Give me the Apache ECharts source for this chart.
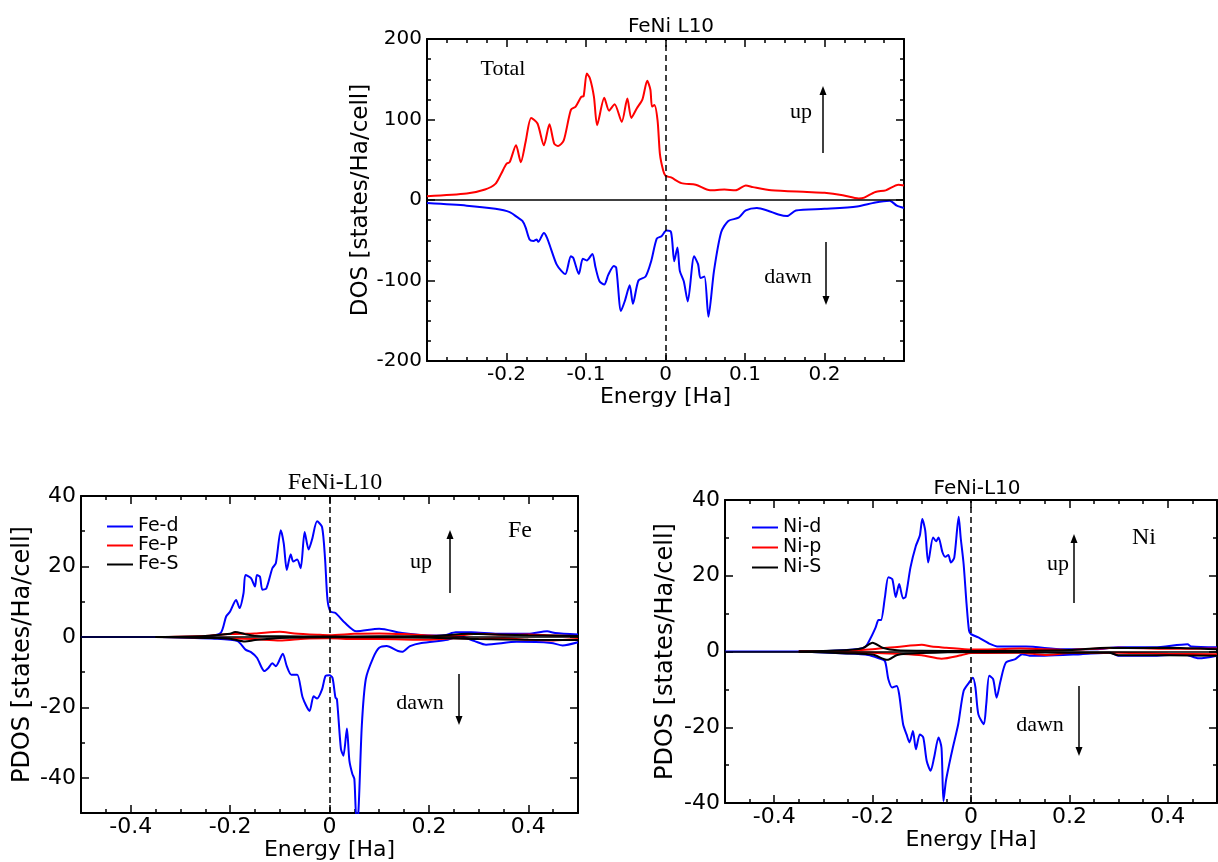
<!DOCTYPE html>
<html>
<head>
<meta charset="utf-8">
<script src="https://cdn.jsdelivr.net/npm/echarts@6/dist/echarts.min.js"></script>
<style>
  html, body { margin: 0; padding: 0; background: #fff; }
  #chart { width: 1218px; height: 862px; }
</style>
</head>
<body>
<div id="chart"></div>
<script>
// ---- data: [energy (Ha), DOS] ----
const totalUp = [[-0.3,4.6],[-0.25,8],[-0.227,13],[-0.214,20],[-0.207,32],[-0.2,45],[-0.196,47],[-0.188,68],[-0.182,47],[-0.176,72],[-0.169,102],[-0.161,95],[-0.153,68],[-0.146,94],[-0.14,70],[-0.135,67],[-0.128,74],[-0.119,112],[-0.113,116],[-0.106,128],[-0.103,129],[-0.099,157],[-0.095,151],[-0.09,128],[-0.086,93],[-0.077,127],[-0.071,111],[-0.064,119],[-0.055,97],[-0.048,126],[-0.043,102],[-0.036,114],[-0.029,125],[-0.023,148],[-0.019,137],[-0.017,116],[-0.014,118],[-0.01,99],[-0.007,57],[-0.003,37],[0,30],[0.007,28],[0.02,21],[0.038,19],[0.056,12],[0.074,13],[0.088,12],[0.101,18],[0.11,16],[0.133,12],[0.178,10],[0.2,9],[0.223,6],[0.243,2],[0.25,3],[0.264,10],[0.277,12],[0.293,19],[0.3,18]];
const totalDown = [[-0.3,-3.8],[-0.25,-7],[-0.214,-11],[-0.196,-15],[-0.187,-21],[-0.18,-26],[-0.176,-34],[-0.171,-49],[-0.166,-51],[-0.162,-49],[-0.16,-52],[-0.153,-41],[-0.149,-47],[-0.144,-61],[-0.137,-80],[-0.131,-88],[-0.126,-92],[-0.119,-70],[-0.116,-72],[-0.109,-92],[-0.104,-73],[-0.099,-75],[-0.092,-67],[-0.088,-84],[-0.083,-101],[-0.077,-105],[-0.072,-93],[-0.065,-82],[-0.062,-84],[-0.056,-138],[-0.051,-125],[-0.045,-106],[-0.041,-129],[-0.034,-100],[-0.025,-95],[-0.018,-76],[-0.011,-48],[-0.005,-45],[0.001,-38],[0.007,-40],[0.011,-76],[0.015,-59],[0.018,-88],[0.023,-101],[0.028,-126],[0.036,-70],[0.041,-80],[0.044,-97],[0.049,-95],[0.054,-145],[0.061,-88],[0.07,-40],[0.079,-26],[0.092,-22],[0.101,-13],[0.115,-10],[0.128,-13],[0.142,-18],[0.153,-20],[0.164,-13],[0.2,-11],[0.241,-8],[0.264,-3],[0.282,-1],[0.291,-7],[0.3,-10]];

const feDUp = [[-0.5,0],[-0.338,0],[-0.246,0.2],[-0.219,1.1],[-0.208,5.8],[-0.2,7.2],[-0.188,10.5],[-0.181,8.2],[-0.173,12.4],[-0.169,17.6],[-0.158,16.7],[-0.15,14.3],[-0.146,17.6],[-0.14,17.1],[-0.135,13.4],[-0.127,13.8],[-0.115,19.5],[-0.108,20.9],[-0.098,30.3],[-0.092,26.5],[-0.086,19],[-0.078,23.5],[-0.073,21.4],[-0.065,22],[-0.058,19.5],[-0.05,29.8],[-0.042,24.8],[-0.035,27.7],[-0.025,32.8],[-0.015,31.2],[-0.009,22.3],[-0.004,10.5],[0.002,7.2],[0.012,6.8],[0.031,4],[0.054,1.6],[0.1,2.3],[0.146,1.1],[0.2,0.4],[0.231,0.5],[0.254,1.3],[0.285,1.3],[0.338,0.9],[0.4,0.9],[0.438,1.6],[0.454,1.1],[0.5,0.7]];
const feDDown = [[-0.338,0],[-0.231,-0.5],[-0.185,-1.2],[-0.169,-3.6],[-0.158,-4.3],[-0.146,-5.9],[-0.131,-9.7],[-0.123,-8.8],[-0.115,-7.5],[-0.108,-8.3],[-0.094,-4.8],[-0.086,-8.3],[-0.077,-10.7],[-0.065,-10.7],[-0.054,-17.2],[-0.04,-21],[-0.032,-16.8],[-0.025,-17.5],[-0.015,-14.9],[-0.008,-11.1],[0,-10.9],[0.006,-11.6],[0.012,-17.2],[0.015,-17.7],[0.023,-31.8],[0.028,-33.7],[0.035,-26],[0.04,-35.1],[0.046,-38.9],[0.05,-40.3],[0.054,-51],[0.058,-50],[0.065,-25.2],[0.073,-12],[0.088,-5.9],[0.1,-3.1],[0.115,-2.6],[0.138,-4],[0.146,-4.2],[0.162,-2.6],[0.185,-1.7],[0.238,-0.8],[0.262,0.2],[0.292,-1.2],[0.315,-2.2],[0.377,-1.4],[0.446,-1.7],[0.469,-2.4],[0.5,-1.5]];
const fePUp = [[-0.34,0],[-0.25,0.3],[-0.2,0.8],[-0.15,1.0],[-0.1,1.5],[-0.07,1.0],[-0.02,0.6],[0,0.5],[0.05,0.9],[0.1,1.0],[0.15,0.8],[0.2,0.4],[0.25,0.3],[0.3,0.9],[0.35,0.6],[0.4,0.7],[0.45,0.4],[0.5,0.3]];
const fePDown = [[-0.34,0],[-0.25,-0.2],[-0.2,-0.4],[-0.15,-0.6],[-0.1,-1.0],[-0.05,-0.5],[0,-0.4],[0.05,-0.6],[0.1,-0.6],[0.2,-0.8],[0.25,-0.4],[0.3,-0.5],[0.35,-0.4],[0.4,-0.8],[0.45,-1.0],[0.5,-0.6]];
const feSUp = [[-0.35,0],[-0.25,0.3],[-0.2,0.9],[-0.19,1.4],[-0.17,0.8],[-0.15,0.3],[-0.1,0.2],[0,0.1],[0.1,0.2],[0.2,0.2],[0.28,0.9],[0.3,0.8],[0.4,0.5],[0.5,0.3]];
const feSDown = [[-0.35,0],[-0.25,-0.3],[-0.2,-0.5],[-0.17,-1.3],[-0.15,-0.9],[-0.1,-0.3],[0,-0.1],[0.2,-0.2],[0.3,-0.6],[0.4,-0.8],[0.5,-0.9]];

const niDUp = [[-0.5,0],[-0.35,0],[-0.254,0.4],[-0.216,1.1],[-0.205,3.3],[-0.194,6.3],[-0.188,8.3],[-0.183,8.3],[-0.175,14.3],[-0.168,19.6],[-0.16,19.1],[-0.153,14.4],[-0.146,17.8],[-0.138,14],[-0.133,14.4],[-0.123,22.2],[-0.112,27.9],[-0.104,30.6],[-0.099,35],[-0.093,31.9],[-0.087,23.5],[-0.077,30.1],[-0.071,29.1],[-0.066,30.1],[-0.058,26.2],[-0.052,25],[-0.046,25.5],[-0.041,23.5],[-0.034,24.8],[-0.025,35.6],[-0.021,30.1],[-0.015,23.1],[-0.009,12.5],[-0.004,5.5],[0,4.6],[0.015,3.7],[0.037,2.1],[0.056,1.3],[0.112,1.3],[0.187,0.6],[0.254,0.6],[0.299,1.1],[0.373,1.1],[0.44,1.9],[0.448,1.3],[0.5,1.1]];
const niDDown = [[-0.35,0],[-0.254,-0.5],[-0.209,-0.9],[-0.187,-1.8],[-0.175,-2.5],[-0.168,-7.3],[-0.16,-9.5],[-0.151,-9.1],[-0.146,-11.3],[-0.138,-19.2],[-0.131,-21.9],[-0.125,-24],[-0.118,-21],[-0.112,-25.8],[-0.104,-21.9],[-0.097,-22.7],[-0.09,-28.9],[-0.082,-31.5],[-0.075,-28],[-0.066,-22.7],[-0.06,-25.4],[-0.056,-39.5],[-0.051,-34.2],[-0.045,-30.2],[-0.037,-25.4],[-0.026,-19.2],[-0.015,-10.4],[-0.004,-8.2],[0.004,-6.9],[0.009,-9.5],[0.015,-16.6],[0.026,-19.2],[0.031,-13.9],[0.037,-6.4],[0.045,-7.3],[0.052,-12.2],[0.06,-7.8],[0.071,-2.9],[0.09,-2],[0.104,-0.7],[0.119,-1.1],[0.149,-1.1],[0.224,-0.7],[0.284,-0.3],[0.299,-1.1],[0.373,-1.1],[0.433,-0.7],[0.463,-1.8],[0.5,-1.1]];
const niPUp = [[-0.35,0],[-0.25,0.2],[-0.2,0.6],[-0.15,1.2],[-0.1,1.8],[-0.08,1.3],[-0.05,1.0],[0,0.5],[0.05,0.6],[0.1,0.8],[0.2,0.4],[0.3,1.0],[0.4,0.7],[0.5,0.8]];
const niPDown = [[-0.35,0],[-0.2,-0.3],[-0.15,-0.6],[-0.1,-1.0],[-0.06,-1.9],[-0.02,-1.0],[0,-0.4],[0.1,-0.3],[0.15,-0.9],[0.2,-0.4],[0.3,-0.3],[0.4,-0.6],[0.5,-0.7]];
const niSUp = [[-0.35,0],[-0.25,0.4],[-0.22,0.9],[-0.2,2.3],[-0.18,1.0],[-0.15,0.3],[-0.1,0.2],[0,0.1],[0.1,0.2],[0.2,0.4],[0.28,1.0],[0.3,0.9],[0.4,1.0],[0.5,0.6]];
const niSDown = [[-0.35,0],[-0.25,-0.5],[-0.2,-0.8],[-0.17,-2.2],[-0.15,-0.9],[-0.1,-0.4],[0,-0.1],[0.2,-0.3],[0.28,-0.3],[0.3,-1.0],[0.4,-1.0],[0.5,-1.1]];

// tick labels
const topXLabels = [-0.2, -0.1, 0, 0.1, 0.2];
const topYLabels = [-200, -100, 0, 100, 200];
const pdosXLabels = [-0.4, -0.2, 0, 0.2, 0.4];
const feYLabels = [-40, -20, 0, 20, 40];
const niYLabels = [-40, -20, 0, 20, 40];

const SANS = 'DejaVu Sans';
const SERIF = 'Liberation Serif';

function steps(min, max, step) {
    const out = [];
    const n = Math.round((max - min) / step);
    for (let i = 0; i <= n; i++) out.push(+(min + i * step).toFixed(4));
    return out;
}

function fmt(v) {
    return String(+(+v).toFixed(3));
}

// one grid gets 4 axes per direction: main (labels + minor ticks), major overlay, mirrored pair
function makeAxes(dim, g, min, max, minorStep, majors, labels, name, opt) {
    const tickStyle = { color: '#000', width: 1.5 };
    const base = {
        type: 'value', gridIndex: g, min: min, max: max,
        splitLine: { show: false },
        axisLine: { show: true, onZero: false, lineStyle: { color: '#000', width: 2 } }
    };
    const sides = dim === 'x' ? ['bottom', 'top'] : ['left', 'right'];
    const minors = steps(min, max, minorStep);
    return [
        Object.assign({}, base, {
            position: sides[0],
            name: name, nameLocation: 'middle', nameGap: opt.nameGap,
            nameTextStyle: { fontFamily: SANS, fontSize: opt.nameSize, color: '#000' },
            axisTick: { inside: true, length: 4, customValues: minors, lineStyle: tickStyle },
            axisLabel: { customValues: labels, formatter: fmt, margin: opt.margin,
                fontFamily: SANS, fontSize: opt.labelSize, color: '#000' }
        }),
        Object.assign({}, base, {
            position: sides[0],
            axisLine: { show: false, onZero: false },
            axisTick: { inside: true, length: 8, customValues: majors, lineStyle: tickStyle },
            axisLabel: { show: false }
        }),
        Object.assign({}, base, {
            position: sides[1],
            axisTick: { inside: true, length: 4, customValues: minors, lineStyle: tickStyle },
            axisLabel: { show: false }
        }),
        Object.assign({}, base, {
            position: sides[1],
            axisLine: { show: false, onZero: false },
            axisTick: { inside: true, length: 8, customValues: majors, lineStyle: tickStyle },
            axisLabel: { show: false }
        })
    ];
}

function line(name, data, color, g, extra) {
    return Object.assign({
        name: name, type: 'line', data: data,
        xAxisIndex: g * 4, yAxisIndex: g * 4,
        showSymbol: false, smooth: 0.25,
        lineStyle: { color: color, width: 2 },
        itemStyle: { color: color },
        z: 3
    }, extra || {});
}

function guides() {
    return {
        markLine: {
            silent: true, symbol: 'none', label: { show: false },
            animation: false,
            data: [
                { yAxis: 0, lineStyle: { color: '#000', width: 1.5, type: 'solid' } },
                { xAxis: 0, lineStyle: { color: '#000', width: 1.5, type: [6, 4] } }
            ]
        }
    };
}

const grids = [
    { left: 427, top: 39, width: 477, height: 322 },
    { left: 81, top: 496, width: 497, height: 318 },
    { left: 725, top: 500, width: 492, height: 303 }
];

const xAxes = [].concat(
    makeAxes('x', 0, -0.3, 0.3, 0.025, steps(-0.3, 0.3, 0.1), topXLabels, 'Energy [Ha]',
        { nameGap: 23, nameSize: 22, labelSize: 20, margin: 4 }),
    makeAxes('x', 1, -0.5, 0.5, 0.05, pdosXLabels, pdosXLabels, 'Energy [Ha]',
        { nameGap: 22, nameSize: 22, labelSize: 22, margin: 3 }),
    makeAxes('x', 2, -0.5, 0.5, 0.05, pdosXLabels, pdosXLabels, 'Energy [Ha]',
        { nameGap: 20, nameSize: 22, labelSize: 22, margin: 3 })
);
const yAxes = [].concat(
    makeAxes('y', 0, -200, 200, 25, topYLabels, topYLabels, 'DOS [states/Ha/cell]',
        { nameGap: 37, nameSize: 23, labelSize: 20, margin: 5 }),
    makeAxes('y', 1, -50, 40, 10, feYLabels, feYLabels, 'PDOS [states/Ha/cell]',
        { nameGap: 46, nameSize: 24, labelSize: 22, margin: 5 }),
    makeAxes('y', 2, -40, 40, 10, niYLabels, niYLabels, 'PDOS [states/Ha/cell]',
        { nameGap: 47, nameSize: 24, labelSize: 22, margin: 5 })
);

const series = [
    line('up', totalUp, '#ff0000', 0),
    line('down', totalDown, '#0000ff', 0, guides()),

    line('Fe-P', fePUp, '#ff0000', 1),
    line('Fe-P', fePDown, '#ff0000', 1),
    line('Fe-S', feSUp, '#000000', 1),
    line('Fe-S', feSDown, '#000000', 1),
    line('Fe-d', feDUp, '#0000ff', 1, { z: 2 }),
    line('Fe-d', feDDown, '#0000ff', 1, Object.assign({ z: 2 }, guides())),

    line('Ni-p', niPUp, '#ff0000', 2),
    line('Ni-p', niPDown, '#ff0000', 2),
    line('Ni-S', niSUp, '#000000', 2),
    line('Ni-S', niSDown, '#000000', 2),
    line('Ni-d', niDUp, '#0000ff', 2, { z: 2 }),
    line('Ni-d', niDDown, '#0000ff', 2, Object.assign({ z: 2 }, guides()))
];

function label(text, x, y, size, family) {
    return {
        type: 'text', x: x, y: y, silent: true,
        style: { text: text, fill: '#000', font: size + 'px "' + (family || SERIF) + '"',
            textAlign: 'center', textVerticalAlign: 'middle', align: 'center', verticalAlign: 'middle' }
    };
}

function arrow(x, yFrom, yTip) {
    const dir = yTip < yFrom ? 1 : -1;
    return [
        { type: 'line', silent: true, shape: { x1: x, y1: yFrom, x2: x, y2: yTip + dir * 6 },
          style: { stroke: '#000', lineWidth: 1.5 } },
        { type: 'polygon', silent: true,
          shape: { points: [[x - 3.5, yTip + dir * 9], [x, yTip], [x + 3.5, yTip + dir * 9]] },
          style: { fill: '#000' } }
    ];
}

const graphics = [].concat(
    [label('Total', 503, 69, 22), label('up', 801, 112, 22), label('dawn', 788, 277, 22)],
    arrow(823, 153, 86), arrow(826, 242, 305),
    [label('Fe', 520, 531, 24), label('up', 421, 562, 22), label('dawn', 420, 703, 22)],
    arrow(450, 593, 530), arrow(459, 674, 725),
    [label('Ni', 1144, 538, 24), label('up', 1058, 564, 22), label('dawn', 1040, 725, 22)],
    arrow(1074, 603, 534), arrow(1079, 686, 756)
);

const chart = echarts.init(document.getElementById('chart'));
chart.setOption({
    animation: false,
    backgroundColor: '#fff',
    title: [
        { text: 'FeNi L10', left: 666, top: 12, textAlign: 'center',
          textStyle: { fontFamily: SANS, fontSize: 20, fontWeight: 'normal', color: '#000' } },
        { text: 'FeNi-L10', left: 330, top: 466, textAlign: 'center',
          textStyle: { fontFamily: SERIF, fontSize: 24, fontWeight: 'normal', color: '#000' } },
        { text: 'FeNi-L10', left: 972, top: 474, textAlign: 'center',
          textStyle: { fontFamily: SANS, fontSize: 20, fontWeight: 'normal', color: '#000' } }
    ],
    legend: [
        { data: ['Fe-d', 'Fe-P', 'Fe-S'], orient: 'vertical', left: 102, top: 512,
          icon: 'rect', itemWidth: 26, itemHeight: 2, itemGap: 0, selectedMode: false,
          textStyle: { fontFamily: SANS, fontSize: 19, color: '#000' } },
        { data: ['Ni-d', 'Ni-p', 'Ni-S'], orient: 'vertical', left: 747, top: 513,
          icon: 'rect', itemWidth: 26, itemHeight: 2, itemGap: 1, selectedMode: false,
          textStyle: { fontFamily: SANS, fontSize: 19, color: '#000' } }
    ],
    grid: grids,
    xAxis: xAxes,
    yAxis: yAxes,
    series: series,
    graphic: graphics
});
</script>
</body>
</html>
